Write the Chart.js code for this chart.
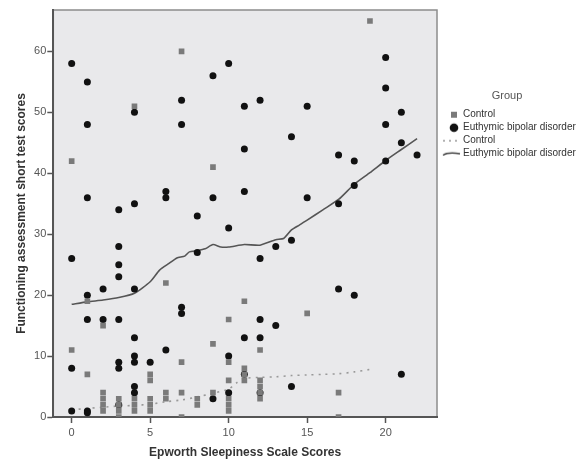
<!DOCTYPE html>
<html>
<head>
<meta charset="utf-8">
<script src="https://cdn.jsdelivr.net/npm/chart.js@4.4.0/dist/chart.umd.min.js"></script>
<style>
  html, body { margin: 0; padding: 0; background: #fff; }
</style>
</head>
<body>
<canvas id="chart" width="577" height="461"></canvas>
<script>
// groups
const groupNames = ['Control', 'Euthymic bipolar disorder'];

// Control scores (squares)
const ctlX = [4,7,0,9,19,1,6,2,0,9,1,5,5,7,10,2,2,2,2,3,3,3,3,4,4,4,5,5,5,6,6,7,7,8,8,9,10,10,10,10,11,11,11,12,12,12,12,17,17,11,10,15,12];
const ctlY = [51,60,42,41,65,19,22,15,11,12,7,7,6,9,9,4,3,2,1,3,2,1,0,3,2,1,3,2,1,4,3,4,0,3,2,4,6,3,2,1,8,7,6,6,5,4,3,4,0,19,16,17,11];

// Euthymic bipolar disorder scores (circles)
const bipX = [0,1,4,7,7,9,1,1,3,4,6,6,9,10,20,20,20,20,11,12,15,14,11,17,18,11,15,17,18,21,21,22,8,0,3,3,3,2,4,1,8,7,7,1,2,3,4,6,0,3,3,4,4,5,4,4,9,3,0,1,1,10,13,14,12,17,18,12,13,11,12,10,10,11,12,14,21];
const bipY = [58,55,50,52,48,56,48,36,34,35,37,36,36,58,59,54,48,42,51,52,51,46,44,43,42,37,36,35,38,50,45,43,33,26,28,25,23,21,21,20,27,18,17,16,16,16,13,11,8,9,8,10,9,9,5,4,3,2,1,1,0.7,31,28,29,26,21,20,16,15,13,13,10,4,7,4,5,7];

// fit lines
const ctlFitX = [0,1,2,3,4,5,6,7,8,9,10,10.5,11,12,13,14,15,16,17,18,19];
const ctlFitY = [1.2,1.4,1.6,1.8,1.9,2.1,2.5,2.8,3.3,3.9,4.6,5.6,6.3,6.5,6.6,6.8,6.9,7.0,7.1,7.4,7.8];
const bipFitX = [0,1,2,3,4,5,5.6,6.2,6.7,7.2,7.5,8,8.5,9,9.5,10,11,12,13,13.5,14,14.5,15,16,17,18,19,20,21,22];
const bipFitY = [18.5,18.9,19.2,19.6,20.3,22.2,24.1,25.2,26.1,26.4,27.1,27.3,27.6,28.3,27.9,27.9,28.3,28.2,29.1,29.3,30.7,31.5,32.3,34.0,35.7,38.2,40.1,42.1,43.9,45.7];

const xTicks = [0,5,10,15,20];
const yTicks = [0,10,20,30,40,50,60];

function pts(xs, ys) {
  return xs.map((x, i) => ({x: x, y: ys[i]}));
}

// little pictures for the legend symbols
function icon(draw) {
  const c = document.createElement('canvas');
  c.width = 28;
  c.height = 12;
  const g = c.getContext('2d');
  draw(g);
  return c;
}
const legendIcons = [
  icon(g => { g.fillStyle = '#7a7a7a'; g.fillRect(16, 3, 6, 6); }),
  icon(g => { g.fillStyle = '#111'; g.beginPath(); g.arc(19, 6, 4.3, 0, Math.PI * 2); g.fill(); }),
  icon(g => { g.strokeStyle = '#999'; g.lineWidth = 1.5; g.setLineDash([2, 4]); g.beginPath(); g.moveTo(8, 6); g.lineTo(26, 6); g.stroke(); }),
  icon(g => { g.strokeStyle = '#444'; g.lineWidth = 1.5; g.beginPath(); g.moveTo(8, 7.5); g.quadraticCurveTo(13, 4, 25, 6); g.stroke(); })
];

const plotFrame = {
  id: 'plotFrame',
  beforeDraw(chart) {
    const {ctx, chartArea: a} = chart;
    ctx.save();
    ctx.fillStyle = '#e9e9eb';
    ctx.fillRect(a.left, a.top, a.right - a.left, a.bottom - a.top);
    ctx.strokeStyle = '#8c8c8c';
    ctx.lineWidth = 1.5;
    ctx.strokeRect(a.left, a.top, a.right - a.left, a.bottom - a.top);
    ctx.restore();
  }
};

const font = 'Liberation Sans, Arial, sans-serif';

const ctx = document.querySelector('#chart').getContext('2d');
const chart = new Chart(ctx, {
  type: 'scatter',
  data: {
    datasets: [
      {
        label: groupNames[0],
        data: pts(ctlX, ctlY),
        pointStyle: 'rect',
        pointRadius: 4,
        backgroundColor: '#7a7a7a',
        borderColor: '#8a8a8a',
        borderWidth: 0
      },
      {
        label: groupNames[1],
        data: pts(bipX, bipY),
        pointStyle: 'circle',
        pointRadius: 3.5,
        backgroundColor: '#111',
        borderColor: '#111',
        borderWidth: 0
      },
      {
        label: groupNames[0],
        data: pts(ctlFitX, ctlFitY),
        showLine: true,
        pointRadius: 0,
        borderColor: '#999',
        borderWidth: 1.6,
        borderDash: [2, 5],
        tension: 0.3
      },
      {
        label: groupNames[1],
        data: pts(bipFitX, bipFitY),
        showLine: true,
        pointRadius: 0,
        borderColor: '#555',
        borderWidth: 1.6,
        tension: 0.2
      }
    ]
  },
  options: {
    responsive: false,
    animation: false,
    layout: { padding: { top: 10, left: 14.5, bottom: 0.8, right: 0 } },
    plugins: {
      tooltip: { enabled: false },
      legend: {
        position: 'right',
        align: 'start',
        maxWidth: 140,
        title: {
          display: true,
          text: 'Group',
          color: '#555',
          font: { family: font, size: 11 },
          padding: { top: 80.5, bottom: 3 }
        },
        labels: {
          usePointStyle: true,
          pointStyleWidth: 18,
          padding: 3,
          color: '#333',
          font: { family: font, size: 10 },
          generateLabels: function(chart) {
            const items = Chart.defaults.plugins.legend.labels.generateLabels(chart);
            items.forEach((it, i) => { it.pointStyle = legendIcons[i]; });
            return items;
          }
        }
      }
    },
    scales: {
      x: {
        type: 'linear',
        min: -1.17,
        max: 23.27,
        afterBuildTicks: s => { s.ticks = xTicks.map(v => ({value: v})); },
        afterFit: s => { s.height = 43.2; },
        grid: { drawOnChartArea: false, tickLength: 6, tickColor: '#555', tickWidth: 1.5 },
        border: { display: true, color: '#555', width: 2 },
        ticks: { color: '#555', padding: 3, font: { family: font, size: 11 } },
        title: {
          display: true,
          text: 'Epworth Sleepiness Scale Scores',
          color: '#333',
          padding: 0,
          font: { family: font, size: 12, weight: 'bold' }
        }
      },
      y: {
        type: 'linear',
        min: 0,
        max: 66.8,
        afterBuildTicks: s => { s.ticks = yTicks.map(v => ({value: v})); },
        afterFit: s => { s.width = 38.8; },
        grid: { drawOnChartArea: false, tickLength: 6, tickColor: '#555', tickWidth: 1.5 },
        border: { display: true, color: '#555', width: 2 },
        ticks: { color: '#555', padding: 1, font: { family: font, size: 11 } },
        title: {
          display: true,
          text: 'Functioning assessment short test scores',
          color: '#333',
          padding: 0,
          font: { family: font, size: 12, weight: 'bold' }
        }
      }
    }
  },
  plugins: [plotFrame]
});
</script>
</body>
</html>
